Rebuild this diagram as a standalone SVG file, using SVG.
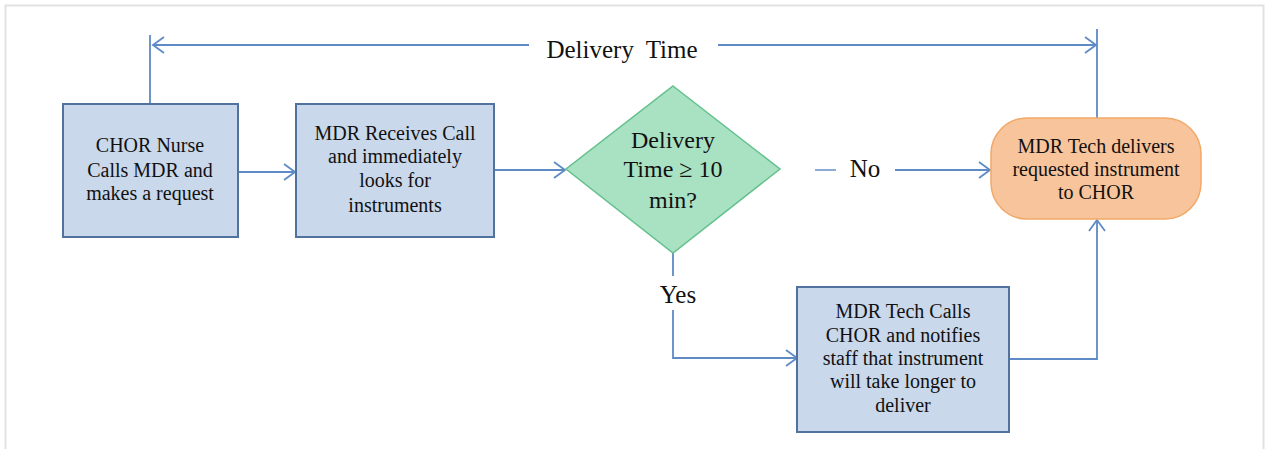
<svg xmlns="http://www.w3.org/2000/svg" width="1269" height="449" viewBox="0 0 1269 449">
  <defs>
    <style>
      .box { fill: #C9D8EB; stroke: #52729E; stroke-width: 2; }
      .dec { fill: #A9E2C3; stroke: #62C08C; stroke-width: 1.5; }
      .term { fill: #F8C49C; stroke: #F2A866; stroke-width: 1.5; }
      .conn { fill: none; stroke: #5E8AC6; stroke-width: 1.8; }
      text { font-family: 'Liberation Serif', 'DejaVu Serif', 'Times New Roman', serif; fill: #111111; text-anchor: middle; }
      .s20 { font-size: 20px; }
      .s24 { font-size: 24px; }
      .s25 { font-size: 25px; }
    </style>
    <marker id="arr" viewBox="-13 -10 15 20" refX="0" refY="0" markerWidth="15" markerHeight="20" markerUnits="userSpaceOnUse" orient="auto">
      <path d="M-11,-8 L0,0 L-11,8" fill="none" stroke="#5E8AC6" stroke-width="1.8"/>
    </marker>
  </defs>
  <rect x="0" y="0" width="1269" height="449" fill="#ffffff"/>
  <path d="M5.5,449 V5.5 H1263.5 V449" fill="none" stroke="#E2E2E2" stroke-width="2"/>

  <g id="connectors">
    <path class="conn" d="M150,104 V35"/>
    <path class="conn" d="M529,45 H153" marker-end="url(#arr)"/>
    <path class="conn" d="M1097,118 V29"/>
    <path class="conn" d="M718,45 H1096" marker-end="url(#arr)"/>
    <path class="conn" d="M238,172 H295" marker-end="url(#arr)"/>
    <path class="conn" d="M494,170 H565" marker-end="url(#arr)"/>
    <path class="conn" d="M815,170 H836" stroke-opacity="0.8"/>
    <path class="conn" d="M895,170 H990" marker-end="url(#arr)"/>
    <path class="conn" d="M673,253 V276"/>
    <path class="conn" d="M673,310 V358 H797" marker-end="url(#arr)"/>
    <path class="conn" d="M1009,359 H1097 V220" marker-end="url(#arr)"/>
    <text class="s25" x="622" y="58" word-spacing="6">Delivery Time</text>
    <text class="s25" x="865" y="177">No</text>
    <text class="s25" x="678" y="303">Yes</text>
  </g>

  <g id="node-nurse">
    <rect class="box" x="63" y="104" width="175" height="133"/>
    <text class="s20" x="150" y="152">CHOR Nurse</text>
    <text class="s20" x="150" y="177">Calls MDR and</text>
    <text class="s20" x="150" y="200">makes a request</text>
  </g>

  <g id="node-receive">
    <rect class="box" x="296" y="104" width="198" height="133"/>
    <text class="s20" x="395" y="140">MDR Receives Call</text>
    <text class="s20" x="395" y="163">and immediately</text>
    <text class="s20" x="395" y="187">looks for</text>
    <text class="s20" x="395" y="212">instruments</text>
  </g>

  <g id="node-decision">
    <polygon class="dec" points="673,86 780,169 673,253 566,169"/>
    <text class="s24" x="673" y="148">Delivery</text>
    <text class="s24" x="673" y="177">Time ≥ 10</text>
    <text class="s24" x="673" y="208">min?</text>
  </g>

  <g id="node-deliver">
    <rect class="term" x="991" y="118" width="210" height="101" rx="36" ry="36"/>
    <text class="s20" x="1096" y="153">MDR Tech delivers</text>
    <text class="s20" x="1096" y="176">requested instrument</text>
    <text class="s20" x="1096" y="199">to CHOR</text>
  </g>

  <g id="node-notify">
    <rect class="box" x="797" y="287" width="212" height="145"/>
    <text class="s20" x="903" y="318">MDR Tech Calls</text>
    <text class="s20" x="903" y="342">CHOR and notifies</text>
    <text class="s20" x="903" y="365">staff that instrument</text>
    <text class="s20" x="903" y="388">will take longer to</text>
    <text class="s20" x="903" y="412">deliver</text>
  </g>
</svg>
